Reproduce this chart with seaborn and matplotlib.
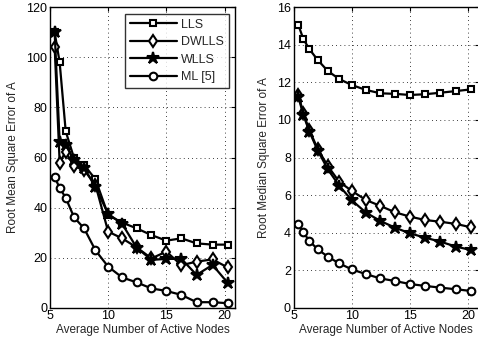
import numpy as np
import pandas as pd
import seaborn as sns
import matplotlib.pyplot as plt

# average number of active nodes (x axis, shared by both panels)
nodes = [5.4, 5.83, 6.35, 7.07, 7.93, 8.91, 10.0, 11.2, 12.45, 13.72, 15.0, 16.3, 17.6, 18.97, 20.26]

# root mean square error of A (left panel)
rmse_lls = [110, 98, 70.5, 59.7, 57, 51.3, 37, 34, 31.7, 29, 26.8, 27.7, 25.7, 25.2, 25.2]
rmse_dwlls = [104.3, 58, 62.3, 56.5, 55, 49, 30.4, 27.7, 24.1, 19.7, 22.4, 17, 18.4, 19.3, 16.1]
rmse_wlls = [110, 66.3, 65, 59, 56, 48.1, 37.5, 33.5, 24, 19.1, 19.5, 19.5, 13.1, 17.1, 10]
rmse_ml = [52.1, 47.9, 43.9, 36.1, 31.7, 22.9, 16.4, 12.1, 10.1, 7.7, 6.7, 5.1, 2.2, 2.2, 1.8]

# root median square error of A (right panel)
rmed_lls = [15.06, 14.31, 13.77, 13.19, 12.61, 12.18, 11.86, 11.6, 11.42, 11.39, 11.33, 11.37, 11.45, 11.54, 11.63]
rmed_dwlls = [11.35, 10.35, 9.45, 8.45, 7.55, 6.71, 6.22, 5.74, 5.42, 5.08, 4.85, 4.67, 4.58, 4.46, 4.28]
rmed_wlls = [11.24, 10.27, 9.38, 8.37, 7.38, 6.5, 5.72, 5.07, 4.62, 4.26, 3.96, 3.73, 3.52, 3.25, 3.07]
rmed_ml = [4.46, 4.02, 3.55, 3.11, 2.72, 2.36, 2.04, 1.79, 1.56, 1.42, 1.26, 1.16, 1.07, 0.98, 0.89]

labels = ["LLS", "DWLLS", "WLLS", "ML [5]"]
markers = {"LLS": "s", "DWLLS": "d", "WLLS": "*", "ML [5]": "o"}
msizes = {"LLS": 5, "DWLLS": 6.5, "WLLS": 9, "ML [5]": 5.5}
faces = {"LLS": "white", "DWLLS": "white", "WLLS": "black", "ML [5]": "white"}

sns.set_theme(style="white")
plt.rcParams['font.family'] = ['Liberation Sans', 'DejaVu Sans']
plt.rcParams['font.size'] = 8.5

fig = plt.figure(figsize=(4.78, 3.43), dpi=100)
ax1 = fig.add_axes([0.1046, 0.1029, 0.387, 0.8758])
ax2 = fig.add_axes([0.6144, 0.1029, 0.387, 0.8758])

panels = [
    (ax1, [rmse_lls, rmse_dwlls, rmse_wlls, rmse_ml], "Root Mean Square Error of A", (0, 120), np.arange(0, 121, 20)),
    (ax2, [rmed_lls, rmed_dwlls, rmed_wlls, rmed_ml], "Root Median Square Error of A", (0, 16), np.arange(0, 17, 2)),
]

for ax, series, ylab, ylim, yt in panels:
    for name, vals in zip(labels, series):
        df = pd.DataFrame({"x": nodes, "y": vals})
        sns.lineplot(data=df, x="x", y="y", ax=ax, color="black", lw=1.6,
                     marker=markers[name], ms=msizes[name], mfc=faces[name],
                     mec="black", mew=1.5, label=name if ax is ax1 else None)
    ax.set_xlim(5, 20.9)
    ax.set_ylim(*ylim)
    ax.set_xticks([5, 10, 15, 20])
    ax.set_yticks(yt)
    ax.grid(True, color="black", linestyle=(0, (1, 4)), linewidth=0.6)
    ax.tick_params(direction="in", top=True, right=True, length=3, width=0.8,
                   labelsize=9, colors="black", pad=2)
    for s in ax.spines.values():
        s.set_color("black")
        s.set_linewidth(1.0)
    ax.set_xlabel("Average Number of Active Nodes", fontsize=8.5, labelpad=1)
    ax.set_ylabel(ylab, fontsize=8.5, labelpad=5)

if ax2.get_legend() is not None:
    ax2.get_legend().remove()
leg = ax1.legend(loc="upper right", frameon=True, fancybox=False, handlelength=3.8,
                 fontsize=9, borderpad=0.4, labelspacing=0.45, handletextpad=0.3,
                 borderaxespad=0.5)
leg.get_frame().set_edgecolor("black")
leg.get_frame().set_linewidth(1.0)

fig.savefig("out.png", dpi=100)
